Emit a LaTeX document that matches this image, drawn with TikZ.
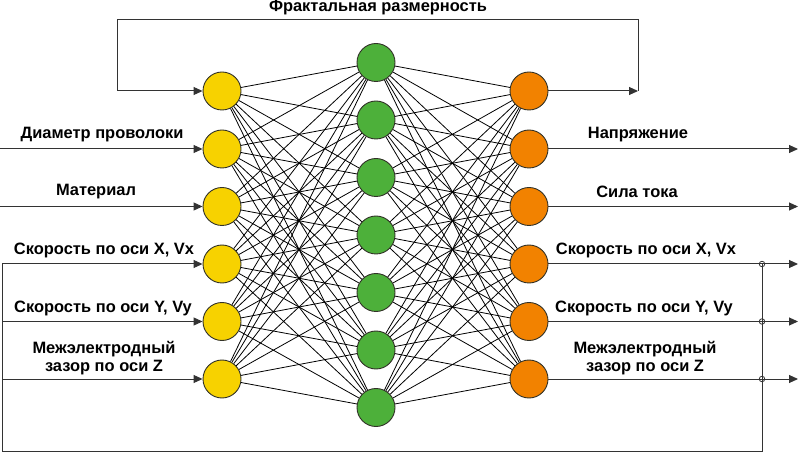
\documentclass[tikz,border=0pt]{standalone}
\usepackage{fontspec}
\setmainfont{Liberation Sans}
\usetikzlibrary{arrows.meta}
\definecolor{cyel}{RGB}{247,210,0}
\definecolor{cgrn}{RGB}{77,176,58}
\definecolor{corg}{RGB}{242,130,0}
\definecolor{cedge}{RGB}{50,50,40}
\tikzset{
  neuron/.style={circle,draw=cedge,line width=0.9bp,minimum size=38bp,inner sep=0pt},
  conn/.style={line width=0.8bp,black},
  wire/.style={line width=1bp,black!80},
  arr/.style={wire,-{Triangle[length=9bp,width=8bp]}},
  lbl/.style={font=\fontsize{16.5}{18.5}\selectfont\bfseries,inner sep=0pt,align=center},
  junc/.style={circle,draw=black!80,line width=0.8bp,minimum size=5.5bp,inner sep=0pt}
}
\begin{document}
\begin{tikzpicture}[x=1bp,y=-1bp]
\useasboundingbox (0,0) rectangle (800,453);
% layers
\foreach \i/\yy in {1/91,2/149,3/206.5,4/264,5/321.5,6/379}{
  \node[neuron,fill=cyel] (y\i) at (222,\yy) {};
  \node[neuron,fill=corg] (o\i) at (529,\yy) {};
}
\foreach \j/\yy in {1/62.5,2/120,3/177.5,4/235,5/292.5,6/350,7/407.5}{
  \node[neuron,fill=cgrn] (g\j) at (376,\yy) {};
}
\foreach \i in {1,...,6}{
  \foreach \j in {1,...,7}{
    \draw[conn] (y\i) -- (g\j);
    \draw[conn] (g\j) -- (o\i);
  }
}
% top feedback
\coordinate (tr) at (638,91);
\coordinate (trt) at (638,19.5);
\coordinate (tlt) at (117,19.5);
\coordinate (tl) at (117,91);
\draw[arr] (o1) -- (tr);
\draw[wire] (tr) -- (trt) -- (tlt) -- (tl);
\draw[arr] (tl) -- (y1);
\node[lbl] (title) at (378,7.5) {Фрактальная размерность};
% simple inputs
\coordinate (i2) at (0,149);
\coordinate (i3) at (0,206.5);
\draw[arr] (i2) -- (y2);
\draw[arr] (i3) -- (y3);
% looped inputs
\coordinate (i4) at (2,264);
\coordinate (i5) at (2,321.5);
\coordinate (i6) at (2,379);
\coordinate (bl) at (2,451);
\coordinate (br) at (762,451);
\coordinate (jt) at (762,264);
\draw[arr] (i4) -- (y4);
\draw[arr] (i5) -- (y5);
\draw[arr] (i6) -- (y6);
\draw[wire] (jt) -- (br) -- (bl) -- (i4);
% outputs
\foreach \i/\yy in {2/149,3/206.5,4/264,5/321.5,6/379}{
  \coordinate (e\i) at (798,\yy);
  \draw[arr] (o\i) -- (e\i);
}
\foreach \i/\yy in {4/264,5/321.5,6/379}{
  \node[junc] (j\i) at (762,\yy) {};
}
% labels
\node[lbl] (l2) at (102,135) {Диаметр проволоки};
\node[lbl] (l3) at (96,192) {Материал};
\node[lbl] (l4) at (104,250) {Скорость по оси X, Vx};
\node[lbl] (l5) at (103,308) {Скорость по оси Y, Vy};
\node[lbl] (l6) at (104,358) {Межэлектродный\\зазор по оси Z};
\node[lbl] (r2) at (638,135) {Напряжение};
\node[lbl] (r3) at (637,192) {Сила тока};
\node[lbl] (r4) at (646,250) {Скорость по оси X, Vx};
\node[lbl] (r5) at (644,308) {Скорость по оси Y, Vy};
\node[lbl] (r6) at (645,358) {Межэлектродный\\зазор по оси Z};
\end{tikzpicture}
\end{document}
